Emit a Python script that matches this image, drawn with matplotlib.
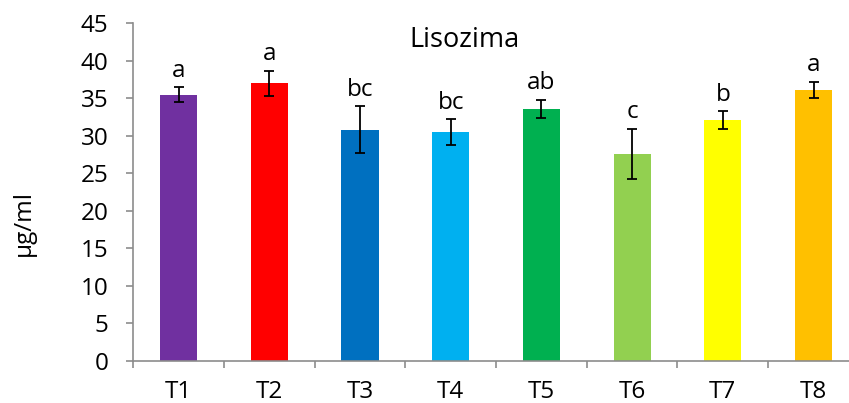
import matplotlib
matplotlib.use("Agg")
import matplotlib.pyplot as plt
from matplotlib.ticker import FixedLocator, MultipleLocator
import numpy as np

categories = ["T1", "T2", "T3", "T4", "T5", "T6", "T7", "T8"]
values = [35.5, 37.0, 30.8, 30.5, 33.6, 27.6, 32.1, 36.1]
errors = [1.0, 1.7, 3.15, 1.7, 1.2, 3.35, 1.2, 1.1]
letters = ["a", "a", "bc", "bc", "ab", "c", "b", "a"]
colors = ["#7030A0", "#FF0000", "#0070C0", "#00B0F0",
          "#00B050", "#92D050", "#FFFF00", "#FFC000"]

plt.rcParams['font.family'] = ['Open Sans', 'DejaVu Sans']

W, H = 849, 403
fig = plt.figure(figsize=(W / 100, H / 100), dpi=100)
ax = fig.add_axes([133.3 / W, 1 - 360.8 / H, (858.9 - 133.3) / W, (360.8 - 23.3) / H])

x = np.arange(len(categories))
ax.bar(x, values, width=0.41, color=colors, zorder=2)
ax.errorbar(x, values, yerr=errors, fmt='none', ecolor='black',
            elinewidth=1.3, capsize=3.8, capthick=1.3, zorder=3)

for xi, v, e, lab in zip(x, values, errors, letters):
    ax.annotate(lab, (xi, v + e), xytext=(0, 7.5), textcoords='offset points',
                ha='center', va='baseline', fontsize=17.5)

ax.set_xlim(-0.5, len(categories) - 0.5)
ax.set_ylim(0, 45)
ax.yaxis.set_major_locator(MultipleLocator(5))
ax.set_xticks(x)
ax.set_xticklabels(categories)
ax.xaxis.set_minor_locator(FixedLocator(np.arange(-0.5, len(categories), 1.0)))

axis_col = '#8C8C8C'
for s in ['top', 'right']:
    ax.spines[s].set_visible(False)
for s in ['left', 'bottom']:
    ax.spines[s].set_color(axis_col)
    ax.spines[s].set_linewidth(1.2)

ax.tick_params(axis='y', which='major', direction='out', length=5, width=1.2,
               color=axis_col, labelsize=17.5, pad=13)
ax.tick_params(axis='x', which='major', length=0, labelsize=17.5, pad=13.5)
ax.tick_params(axis='x', which='minor', direction='out', length=5, width=1.2,
               color=axis_col)

fig.text(464.5 / W, 1 - 46.7 / H, "Lisozima", ha='center', va='baseline', fontsize=19.5)
fig.text(24 / W, 1 - 222.7 / H, "µg/ml", rotation=90, ha='center', va='center', fontsize=17.5)

fig.savefig("out.png", dpi=100)
